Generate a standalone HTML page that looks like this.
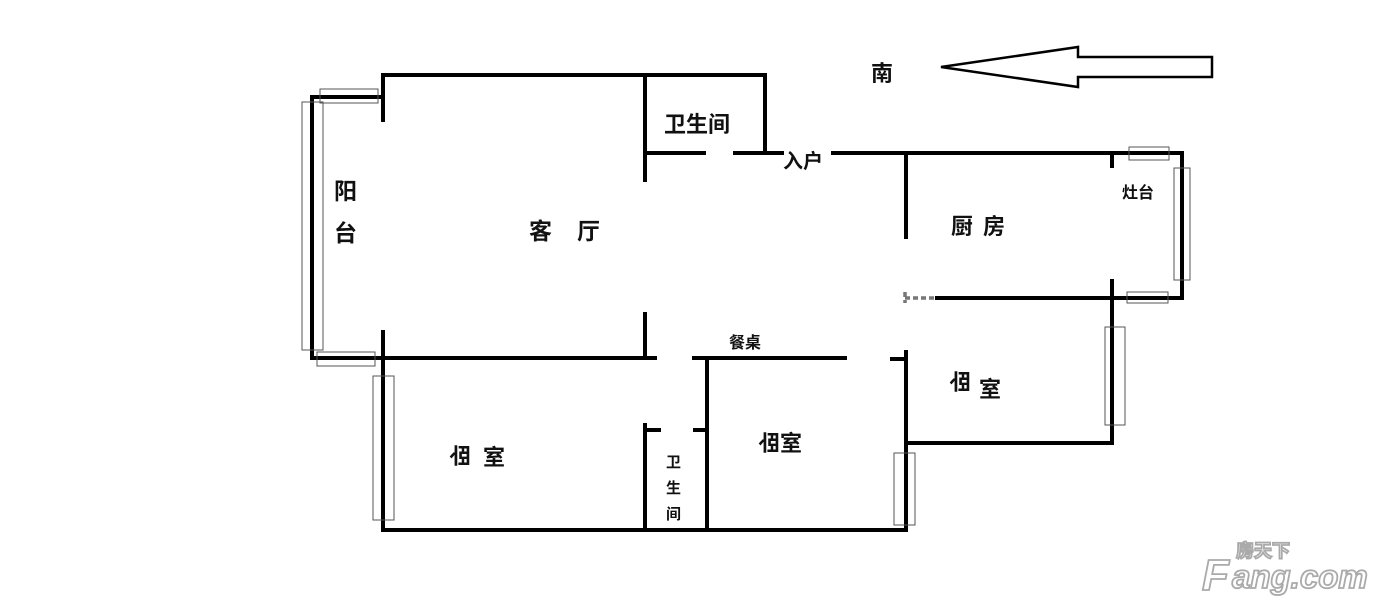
<!DOCTYPE html>
<html><head><meta charset="utf-8"><style>
html,body{margin:0;padding:0;background:#fff;}
svg{display:block;}
text{font-family:"Liberation Sans","Noto Sans CJK SC",sans-serif;font-weight:bold;fill:#111;}
</style></head><body>
<svg width="1400" height="609" viewBox="0 0 1400 609" xmlns="http://www.w3.org/2000/svg">
<g stroke="#000" stroke-width="4" fill="none" stroke-linecap="square">
<path d="M383 120 V75 H765 V153"/>
<path d="M383 332 V358"/>
<path d="M383 97 H312 V358 H655"/>
<path d="M645 75 V180"/>
<path d="M645 153 H704"/>
<path d="M735 153 H782"/>
<path d="M645 314 V358"/>
<path d="M833 153 H1182 V298 H937"/>
<path d="M906 153 V237"/>
<path d="M1112 153 V166"/>
<path d="M1112 281 V443 H906 V352"/>
<path d="M892 359 H906"/>
<path d="M906 443 V530"/>
<path d="M694 358 H845"/>
<path d="M707 358 V530"/>
<path d="M383 358 V530 H906"/>
<path d="M645 425 V530"/>
<path d="M645 430 H659"/>
<path d="M695 430 H707"/>
</g>
<path d="M905 292 V303 M905 298 H937" stroke="#777" stroke-width="3.5" stroke-dasharray="5 3"/>
<g stroke="#555" stroke-width="1" fill="none">
<rect x="320" y="89" width="58" height="14"/>
<rect x="302" y="102" width="21" height="248"/>
<rect x="317" y="352" width="58" height="14"/>
<rect x="1129" y="147" width="40" height="13"/>
<rect x="1174" y="168" width="16" height="112"/>
<rect x="1127" y="292" width="41" height="11"/>
<rect x="1105" y="327" width="20" height="98"/>
<rect x="373" y="376" width="21" height="144"/>
<rect x="894" y="453" width="21" height="72"/>
</g>
<polygon points="941,67 1078,47 1078,57 1212,57 1212,77 1078,77 1078,87" fill="none" stroke="#000" stroke-width="2.5"/>
<text x="871" y="81" font-size="22">南</text>
<text x="664" y="132" font-size="22">卫生间</text>
<text x="334" y="199" font-size="23">阳</text>
<text x="334" y="241" font-size="23">台</text>
<text x="529" y="239" font-size="23">客</text>
<text x="577" y="239" font-size="23">厅</text>
<text x="783" y="168" font-size="20">入户</text>
<text x="951" y="234" font-size="22">厨</text>
<text x="983" y="234" font-size="22">房</text>
<text x="1122" y="198" font-size="16" font-weight="normal">灶台</text>
<text x="729" y="348" font-size="16">餐桌</text>
<text x="949" y="390" font-size="22" transform="translate(1920,0) scale(-1,1)">卧</text>
<text x="979" y="397" font-size="22">室</text>
<text x="453" y="464" font-size="22" transform="translate(924,0) scale(-1,1)">卧</text>
<text x="483" y="465" font-size="22">室</text>
<text x="758" y="451" font-size="22" transform="translate(1538,0) scale(-1,1)">卧</text>
<text x="780" y="451" font-size="22">室</text>
<text x="666" y="467" font-size="15">卫</text>
<text x="666" y="493" font-size="15">生</text>
<text x="666" y="519" font-size="15">间</text>
<g stroke="#aaa" stroke-width="1.8">
<text x="1236" y="557" font-size="18" style="fill:#fff">房天下</text>
<text x="1202" y="590" font-size="44" font-style="italic" style="fill:#fff">F</text>
<text x="1232" y="588" font-size="33" font-style="italic" style="fill:#fff">ang.com</text>
</g>
</svg>
</body></html>
